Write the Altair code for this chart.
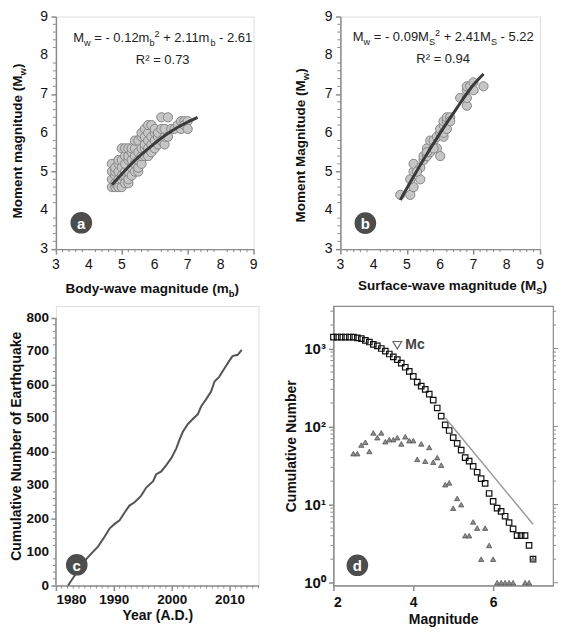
import altair as alt
import pandas as pd

FONT = "Liberation Sans"
GRAY = "#8c8c8c"
DARK = "#111111"

# ---------------- Panel a data ----------------
A_MB = [4.7, 4.7, 4.7, 4.7,
        4.8, 4.8, 4.8, 4.8, 4.8,
        4.9, 4.9, 4.9, 4.9, 4.9,
        5.0, 5.0, 5.0, 5.0, 5.0, 5.0,
        5.1, 5.1, 5.1, 5.1, 5.1, 5.1,
        5.2, 5.2, 5.2, 5.2, 5.2, 5.2,
        5.3, 5.3, 5.3, 5.3, 5.3,
        5.4, 5.4, 5.4, 5.4, 5.4,
        5.5, 5.5, 5.5, 5.5, 5.5,
        5.6, 5.6, 5.6, 5.6, 5.6,
        5.7, 5.7, 5.7, 5.7, 5.7,
        5.8, 5.8, 5.8, 5.8, 5.8,
        5.9, 5.9, 5.9, 5.9,
        6.0, 6.0, 6.0, 6.0,
        6.1, 6.1, 6.1,
        6.2, 6.2, 6.2,
        6.3, 6.3, 6.3,
        6.4, 6.4,
        6.5, 6.6, 6.7,
        6.8, 6.8, 6.9, 6.9, 7.0, 7.0]
A_MW = [4.6, 4.8, 5.0, 5.2,
        4.6, 4.7, 4.9, 5.0, 5.1,
        4.6, 4.8, 5.0, 5.2, 5.3,
        4.6, 4.8, 4.9, 5.1, 5.3, 5.6,
        4.7, 4.9, 5.0, 5.2, 5.4, 5.6,
        4.7, 4.8, 5.0, 5.3, 5.4, 5.6,
        4.9, 5.1, 5.3, 5.5, 5.6,
        5.0, 5.2, 5.4, 5.6, 5.8,
        5.0, 5.1, 5.3, 5.5, 5.8,
        5.2, 5.4, 5.6, 5.9, 6.0,
        5.4, 5.6, 5.7, 5.9, 6.1,
        5.4, 5.6, 5.8, 6.0, 6.2,
        5.5, 5.7, 5.9, 6.2,
        5.6, 5.8, 6.0, 6.1,
        5.7, 5.9, 6.0,
        5.8, 6.1, 6.4,
        5.7, 5.9, 6.1,
        6.4, 5.9,
        6.1, 6.1, 6.2,
        6.3, 6.1, 6.3, 6.2, 6.3, 6.1]
A_FIT_MB = [4.7, 5.0, 5.5, 6.0, 6.5, 7.0, 7.3]
A_FIT_MW = [4.66, 4.94, 5.37, 5.73, 6.04, 6.28, 6.40]

# ---------------- Panel b data ----------------
B_MS = [4.8, 5.1, 5.2, 5.1, 5.4, 5.2, 5.2, 5.4, 5.3, 5.5, 5.5, 5.6, 5.6, 5.7,
        5.7, 5.8, 5.9, 5.9, 6.0, 6.0, 6.0, 6.1, 6.1, 6.1, 6.1, 6.2, 6.2, 6.3,
        6.2, 6.3, 6.6, 6.8, 6.8, 6.8, 6.8, 6.9, 7.0, 7.0, 7.3, 5.6, 5.8]
B_MW = [4.4, 4.4, 4.6, 4.8, 4.8, 5.0, 5.2, 5.1, 5.0, 5.3, 5.4, 5.4, 5.6, 5.5,
        5.8, 5.8, 5.9, 5.6, 5.4, 6.0, 6.1, 5.9, 6.0, 6.2, 6.3, 6.3, 6.4, 6.4,
        6.1, 6.3, 6.9, 6.7, 6.9, 7.1, 7.2, 7.2, 7.3, 7.1, 7.2, 5.5, 5.6]
B_FIT_MS = [4.8, 5.5, 6.0, 6.5, 7.0, 7.3]
B_FIT_MW = [4.27, 5.31, 6.00, 6.64, 7.24, 7.52]
AB_TICKS = [3, 4, 5, 6, 7, 8, 9]

# ---------------- Panel c data ----------------
C_YEAR = [1982.1, 1984.7, 1985.7, 1987.3, 1988.4, 1989.3, 1990.2, 1991.0, 1991.9,
          1992.7, 1993.6, 1994.7, 1995.6, 1996.8, 1997.3, 1998.2, 1999.1, 1999.9,
          2000.8, 2001.3, 2001.9, 2002.8, 2003.6, 2004.5, 2005.1, 2005.9, 2006.8,
          2007.4, 2008.2, 2009.1, 2009.8, 2010.5, 2011.4, 2012.1]
C_COUNT = [0, 68, 88, 117, 146, 171, 185, 195, 219,
           239, 249, 268, 293, 312, 332, 341, 361, 380,
           410, 434, 459, 483, 497, 512, 536, 556, 580,
           610, 624, 649, 668, 686, 690, 705]
C_AXIS_SPAN = [0, 800]
C_YTICKS = [0, 100, 200, 300, 400, 500, 600, 700, 800]

# ---------------- Panel d data ----------------
D_MAG = [2.0, 2.1, 2.2, 2.3, 2.4, 2.5, 2.6, 2.7, 2.8, 2.9, 3.0, 3.1, 3.2, 3.3, 3.4,
         3.5, 3.6, 3.7, 3.8, 3.9, 4.0, 4.1, 4.2, 4.3, 4.4, 4.5, 4.6, 4.7, 4.8, 4.9,
         5.0, 5.1, 5.2, 5.3, 5.4, 5.5, 5.6, 5.7, 5.8, 5.9, 6.0, 6.1, 6.2, 6.3, 6.4,
         6.5, 6.6, 6.7, 6.8, 6.9, 7.0]
D_CUM = [1400, 1400, 1400, 1400, 1400, 1400, 1370, 1340, 1270, 1210, 1130, 1080, 1000,
         925, 850, 780, 720, 650, 575, 510, 440, 370, 330, 300, 260, 218, 173, 136, 105,
         89, 72, 61, 50, 40, 36, 31, 26, 21.5, 18.7, 13.9, 11, 9, 8.2, 7.1, 5.9, 4.9,
         4, 4, 4, 3, 2]
D_TRI_MAG = [2.5, 2.6, 2.7, 2.8, 2.9, 3.0, 3.1, 3.2, 3.3, 3.4, 3.5, 3.6, 3.7, 3.8,
             3.9, 4.0, 4.1, 4.2, 4.3, 4.4, 4.5, 4.6, 4.7, 4.8, 4.9, 5.0, 5.1, 5.2,
             5.3, 5.4, 5.5, 5.6, 5.7, 5.8, 5.9, 6.0, 6.1, 6.2, 6.3, 6.4, 6.5, 6.8,
             6.9, 7.0]
D_TRI_N = [45, 45, 58, 63, 48, 83, 72, 83, 64, 68, 68, 72, 60, 74,
           66, 66, 38, 60, 36, 54, 35, 40, 32, 18, 19, 9, 12, 10,
           4, 4, 6, 5, 2, 5, 3, 2, 1, 1, 1, 1, 1, 1,
           1, 2]
D_LINE_MAG = [4.8, 7.0]
D_LINE_N = [130, 5.6]
D_MC_MAG = [3.6]
D_MC_N = [1100]

# ---------------- rich text helper ----------------
W_REG = {' ': 278, '=': 584, '-': 333, '+': 584, '.': 278, 'M': 833, 'm': 833,
         'w': 722, 'b': 556, 'S': 667, 'R': 722, '\u00b2': 333}
for _d in "0123456789":
    W_REG[_d] = 556
W_BOLD = {' ': 278, '-': 333, '(': 333, ')': 333, 'B': 722, 'M': 833, 'S': 667,
          'a': 556, 'b': 611, 'c': 556, 'd': 611, 'e': 556, 'f': 333, 'g': 611,
          'i': 278, 'm': 889, 'n': 611, 'o': 611, 'r': 389, 't': 333, 'u': 611,
          'v': 556, 'w': 778, 'y': 556, 'l': 278}


def rich_rows(segs, fs, bold, x0, y0, rotate=False, center=False, small=0.7):
    table = W_BOLD if bold else W_REG

    def size_of(kind):
        return fs if kind == 'n' else fs * small

    def width(s, size):
        return sum(table.get(ch, 556) for ch in s) * size / 1000.0

    total = sum(width(t, size_of(k)) for t, k in segs)
    cur = -total / 2 if center else 0.0
    rows = []
    for t, k in segs:
        size = size_of(k)
        lead = len(t) - len(t.lstrip(' '))
        cur += width(' ' * lead, size)
        body = t.strip(' ')
        shift = 0.28 * fs if k == 'sub' else (-0.42 * fs if k == 'sup' else 0.0)
        if body:
            if rotate:
                rows.append(dict(px=x0 + shift, py=y0 - cur, text=body, fs=size))
            else:
                rows.append(dict(px=x0 + cur, py=y0 + shift, text=body, fs=size))
        cur += width(t.lstrip(' '), size)
    return rows


def text_layer(rows, W, H, xdom, ydom, sx, sy, bold, angle=0, color=DARK):
    df = pd.DataFrame(rows)
    df['x'] = xdom[0] + df['px'] * (xdom[1] - xdom[0]) / W
    df['y'] = ydom[1] - df['py'] * (ydom[1] - ydom[0]) / H
    return alt.Chart(df).mark_text(
        align='left', baseline='alphabetic', angle=angle, font=FONT,
        fontWeight='bold' if bold else 'normal', color=color
    ).encode(
        x=alt.X('x:Q', scale=sx),
        y=alt.Y('y:Q', scale=sy),
        text='text:N',
        size=alt.Size('fs:Q', scale=None, legend=None),
    )


def tick_labels(vals, channel, sx, sy, pos, fs, bold):
    df = pd.DataFrame({'v': vals, 't': [str(v) for v in vals]})
    if channel == 'x':
        mk = alt.Chart(df).mark_text(align='center', baseline='top', fontSize=fs, font=FONT,
                                     fontWeight='bold' if bold else 'normal', color=DARK)
        return mk.encode(x=alt.X('v:Q', scale=sx), y=alt.value(pos), text='t:N')
    mk = alt.Chart(df).mark_text(align='right', baseline='middle', fontSize=fs, font=FONT,
                                 fontWeight='bold' if bold else 'normal', color=DARK)
    return mk.encode(y=alt.Y('v:Q', scale=sy), x=alt.value(pos), text='t:N')


def minor_rules(vals, channel, sx, sy, pos, length):
    df = pd.DataFrame({'v': vals})
    if channel == 'x':
        enc = dict(x=alt.X('v:Q', scale=sx), y=alt.value(pos), y2=alt.value(pos + length))
    else:
        enc = dict(y=alt.Y('v:Q', scale=sy), x=alt.value(pos), x2=alt.value(pos + length))
    return alt.Chart(df).mark_rule(color=GRAY, strokeWidth=1).encode(**enc)


def badge(xv, yv, letter, sx, sy):
    df = pd.DataFrame({'x': [xv], 'y': [yv], 't': [letter]})
    c = alt.Chart(df).mark_circle(size=470, color='#4d4d4d', opacity=1).encode(
        x=alt.X('x:Q', scale=sx), y=alt.Y('y:Q', scale=sy))
    t = alt.Chart(df).mark_text(color='white', fontWeight='bold', fontSize=15, font=FONT,
                                baseline='middle', align='center', dy=1).encode(
        x=alt.X('x:Q', scale=sx), y=alt.Y('y:Q', scale=sy), text='t:N')
    return c + t


MINOR_AB = [round(3 + 0.2 * i, 1) for i in range(31) if i % 5 != 0]


def scatter_panel(xs, ys, fx, fy, W, H, eq_segs, eq_pos, r2_text, r2_pos,
                  xt_segs, xt_pos, yt_segs, yt_pos, letter, bxy):
    dom = [3, 9]
    sx = alt.Scale(domain=dom, nice=False, zero=False)
    sy = alt.Scale(domain=dom, nice=False, zero=False)
    common = dict(values=AB_TICKS, tickSize=5, labels=False, domainColor=GRAY, tickColor=GRAY,
                  domainWidth=1.5, tickWidth=1.5, grid=False, title=None)
    pts = alt.Chart(pd.DataFrame({'x': xs, 'y': ys})).mark_circle(
        size=85, color='#c6c6c6', stroke='#858585', strokeWidth=1, opacity=1
    ).encode(
        x=alt.X('x:Q', scale=sx, axis=alt.Axis(**common), title=None),
        y=alt.Y('y:Q', scale=sy, axis=alt.Axis(**common), title=None),
    )
    fit = alt.Chart(pd.DataFrame({'x': fx, 'y': fy})).mark_line(
        color='#3a3a3a', strokeWidth=3, interpolate='monotone'
    ).encode(x=alt.X('x:Q', scale=sx), y=alt.Y('y:Q', scale=sy))
    eq = text_layer(rich_rows(eq_segs, 13, False, eq_pos[0], eq_pos[1]), W, H, dom, dom, sx, sy, False, color='#222')
    r2 = text_layer(rich_rows([(r2_text, 'n')], 13, False, r2_pos[0], r2_pos[1], center=True),
                    W, H, dom, dom, sx, sy, False, color='#222')
    xt = text_layer(rich_rows(xt_segs, 13.5, True, xt_pos[0], xt_pos[1], center=True),
                    W, H, dom, dom, sx, sy, True)
    yt = text_layer(rich_rows(yt_segs, 13.5, True, yt_pos[0], yt_pos[1], rotate=True, center=True),
                    W, H, dom, dom, sx, sy, True, angle=270)
    lx = tick_labels(AB_TICKS, 'x', sx, sy, H + 9, 14, False)
    ly = tick_labels(AB_TICKS, 'y', sx, sy, -8, 14, False)
    mx = minor_rules(MINOR_AB, 'x', sx, sy, H, 3)
    my = minor_rules(MINOR_AB, 'y', sx, sy, -3, 3)
    b = badge(bxy[0], bxy[1], letter, sx, sy)
    return alt.layer(pts, fit, mx, my, lx, ly, eq, r2, xt, yt, b).properties(width=W, height=H)


HT = 233
WA, WB = 198, 200

panel_a = scatter_panel(
    A_MB, A_MW, A_FIT_MB, A_FIT_MW, WA, HT,
    [('M', 'n'), ('w', 'sub'), (' = - 0.12m', 'n'), ('b', 'sub'), ('2', 'sup'),
     (' + 2.11m', 'n'), ('b', 'sub'), (' - 2.61', 'n')], (17.4, 25.5),
    'R\u00b2 = 0.73', (107, 47.5),
    [('Body-wave magnitude (m', 'n'), ('b', 'sub'), (')', 'n')], (96.5, HT + 44),
    [('Moment magnitude (M', 'n'), ('w', 'sub'), (')', 'n')], (-34.0, HT * 0.535),
    'a', (3.77, 3.68))

panel_b = scatter_panel(
    B_MS, B_MW, B_FIT_MS, B_FIT_MW, WB, HT,
    [('M', 'n'), ('w', 'sub'), (' = - 0.09M', 'n'), ('S', 'sub'), ('2', 'sup'),
     (' + 2.41M', 'n'), ('S', 'sub'), (' - 5.22', 'n')], (12.4, 24.5),
    'R\u00b2 = 0.94', (103, 47),
    [('Surface-wave magnitude (M', 'n'), ('S', 'sub'), (')', 'n')], (112.4, HT + 41),
    [('Moment Magnitude (M', 'n'), ('w', 'sub'), (')', 'n')], (-35.5, HT * 0.554),
    'b', (3.75, 3.67))

# ---------------- Panel c ----------------
HB = 280
WC = 203
sx_c = alt.Scale(domain=[1980, 2015], nice=False, zero=False)
sy_c = alt.Scale(domain=[0, 800 * HB / (HB - 12)], nice=False)
axc = dict(tickSize=5, labelFontSize=13.5, labelFontWeight='bold', labelFont=FONT,
           labelColor=DARK, domainColor=GRAY, tickColor=GRAY, domainWidth=1.5, tickWidth=1.5,
           grid=False, titleFont=FONT, titleFontSize=14, titleFontWeight='bold',
           titleColor=DARK, format='d', labelOverlap=False)
line_c = alt.Chart(pd.DataFrame({'x': C_YEAR, 'y': C_COUNT})).mark_line(
    color='#555555', strokeWidth=2
).encode(
    x=alt.X('x:Q', scale=sx_c, axis=alt.Axis(values=[1980, 1990, 2000, 2010], labelPadding=2,
                                                titlePadding=3, **axc), title='Year (A.D.)'),
    y=alt.Y('y:Q', scale=sy_c, axis=alt.Axis(values=C_YTICKS, domain=False, labels=False,
                                                titlePadding=27, **axc),
            title='Cumulative Number of Earthquake'),
)
yspan_c = alt.Chart(pd.DataFrame({'y': [C_AXIS_SPAN[0]], 'y2': [C_AXIS_SPAN[1]]})).mark_rule(
    color=GRAY, strokeWidth=1.5
).encode(x=alt.value(0), y=alt.Y('y:Q', scale=sy_c), y2='y2:Q')
minor_cx = minor_rules([y for y in range(1981, 2016) if y % 10 != 0], 'x', sx_c, sy_c, HB, 3)
minor_cy = minor_rules([v for v in range(20, 800, 20) if v % 100 != 0], 'y', sx_c, sy_c, -3, 3)
ly_c = tick_labels(C_YTICKS, 'y', sx_c, sy_c, -7, 13.5, True)
panel_c = alt.layer(line_c, yspan_c, minor_cx, minor_cy, ly_c,
                    badge(1983.6, 62, 'c', sx_c, sy_c)).properties(width=WC, height=HB)

# ---------------- Panel d ----------------
WD = 220
sx_d = alt.Scale(domain=[2, 7.5], nice=False, zero=False)
sy_d = alt.Scale(type='log', domain=[0.92, 3500], nice=False)
axd = dict(tickSize=5, labelFontWeight='bold', labelFont=FONT, labelColor=DARK,
           domainColor=GRAY, tickColor=GRAY, domainWidth=1.2, tickWidth=1.5, grid=False,
           titleFont=FONT, titleFontSize=14, titleFontWeight='bold', titleColor=DARK,
           labelOverlap=False)
sq = alt.Chart(pd.DataFrame({'x': D_MAG, 'y': D_CUM})).mark_point(
    shape='square', filled=False, color='#111111', strokeWidth=1.2, size=30, opacity=1
).encode(
    x=alt.X('x:Q', scale=sx_d, axis=alt.Axis(values=[2, 4, 6], labelFontSize=14, labelPadding=5,
                                                titlePadding=3, format='d', **axd), title='Magnitude'),
    y=alt.Y('y:Q', scale=sy_d, axis=alt.Axis(
        values=[1, 10, 100, 1000], labelFontSize=15, labelPadding=3, titlePadding=5,
        labelExpr="datum.value == 1 ? '10\u2070' : datum.value == 10 ? '10\u00b9' : "
                  "datum.value == 100 ? '10\u00b2' : '10\u00b3'", **axd),
        title='Cumulative Number'),
)
tri = alt.Chart(pd.DataFrame({'x': D_TRI_MAG, 'y': D_TRI_N})).mark_point(
    shape='triangle-up', filled=True, fill='#8c8c8c', stroke='#555555', strokeWidth=0.8,
    size=28, opacity=1
).encode(x=alt.X('x:Q', scale=sx_d), y=alt.Y('y:Q', scale=sy_d))
gr = alt.Chart(pd.DataFrame({'x': D_LINE_MAG, 'y': D_LINE_N})).mark_line(
    color='#9a9a9a', strokeWidth=1.5
).encode(x=alt.X('x:Q', scale=sx_d), y=alt.Y('y:Q', scale=sy_d))
mc_df = pd.DataFrame({'x': D_MC_MAG, 'y': D_MC_N, 't': ['Mc']})
mc = alt.Chart(mc_df).mark_point(shape='triangle-down', filled=False, color='#666666',
                                 size=75, strokeWidth=1.2, opacity=1).encode(
    x=alt.X('x:Q', scale=sx_d), y=alt.Y('y:Q', scale=sy_d))
mc_t = alt.Chart(mc_df).mark_text(align='left', baseline='middle', dx=8, fontSize=14,
                                  fontWeight='bold', font=FONT, color='#444444').encode(
    x=alt.X('x:Q', scale=sx_d), y=alt.Y('y:Q', scale=sy_d), text='t:N')
D_MINOR = [m * d for d in (1, 10, 100) for m in range(2, 10)] + [2000, 3000]
minor_dl = minor_rules(D_MINOR, 'y', sx_d, sy_d, -3, 3)
minor_dr = minor_rules(D_MINOR, 'y', sx_d, sy_d, WD, 3)
major_dr = minor_rules([1, 10, 100, 1000], 'y', sx_d, sy_d, WD, 5)
panel_d = alt.layer(sq, gr, tri, mc, mc_t, minor_dl, minor_dr, major_dr,
                    badge(2.6, 1.67, 'd', sx_d, sy_d)).properties(
    width=WD, height=HB, view=alt.ViewBackground(stroke=GRAY, strokeWidth=1.2))

top = alt.hconcat(panel_a, panel_b, spacing=34)
bottom = alt.hconcat(panel_c, panel_d, spacing=24)
chart = alt.vconcat(top, bottom, spacing=6).properties(
    padding={'left': 0, 'top': 0, 'right': 0, 'bottom': 0}
).configure_view(stroke=None).configure_axis(
    labelOverlap=False
).configure(background='white')

chart.save("out.html", embed_options={"renderer": "svg", "actions": False})
